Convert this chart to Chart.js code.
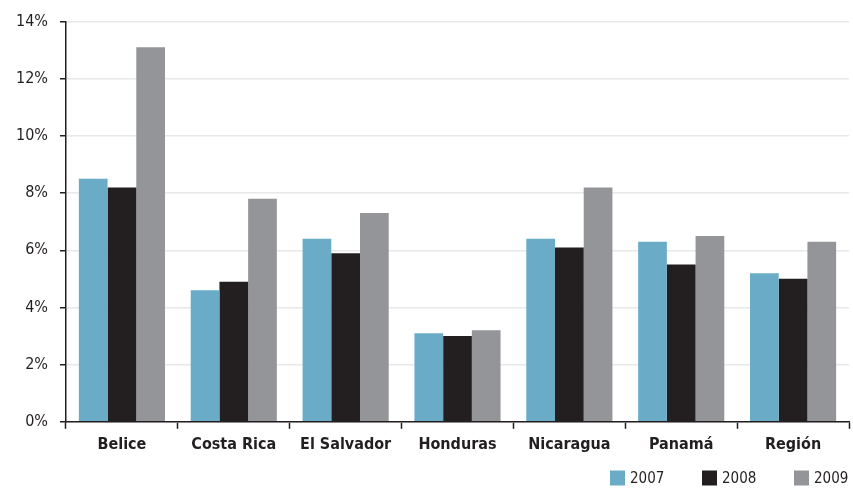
<!DOCTYPE html>
<html>
<head>
<meta charset="utf-8">
<script src="https://cdn.jsdelivr.net/npm/chart.js@4/dist/chart.umd.min.js"></script>
<style>
  html, body { margin: 0; padding: 0; background: #fff; }
  #wrap { width: 853px; height: 490px; }
</style>
</head>
<body>
<div id="wrap"><canvas id="chart"></canvas></div>
<script>
const paises = ["Belice", "Costa Rica", "El Salvador", "Honduras", "Nicaragua", "Panamá", "Región"];
const serie2007 = [8.5, 4.6, 6.4, 3.1, 6.4, 6.3, 5.2];
const serie2008 = [8.2, 4.9, 5.9, 3.0, 6.1, 5.5, 5.0];
const serie2009 = [13.1, 7.8, 7.3, 3.2, 8.2, 6.5, 6.3];
const yTicks = [0, 2, 4, 6, 8, 10, 12, 14];

const fontFamily = "'DejaVu Sans Condensed', 'Liberation Sans Narrow', sans-serif";

// legend drawn bottom-right with wide spacing between the year entries
const leyendaAnios = {
  id: "leyendaAnios",
  afterDraw(chart) {
    const c = chart.ctx;
    const box = 15;
    const step = 92;
    const yMid = chart.height - 12;
    let x = chart.chartArea.right - 2 * step - 55;
    c.save();
    c.font = "15px " + fontFamily;
    c.textBaseline = "middle";
    c.textAlign = "left";
    chart.data.datasets.forEach(ds => {
      c.fillStyle = ds.backgroundColor;
      c.fillRect(x, yMid - box / 2, box, box);
      c.fillStyle = "#231f20";
      c.fillText(ds.label, x + box + 5, yMid + 1);
      x += step;
    });
    c.restore();
  }
};

const ctx = document.getElementById("chart").getContext("2d");
new Chart(ctx, {
  type: "bar",
  data: {
    labels: paises,
    datasets: [
      { label: "2007", data: serie2007, backgroundColor: "#6aabc8" },
      { label: "2008", data: serie2008, backgroundColor: "#231f20" },
      { label: "2009", data: serie2009, backgroundColor: "#939598" }
    ]
  },
  options: {
    responsive: true,
    maintainAspectRatio: false,
    animation: false,
    datasets: {
      bar: { categoryPercentage: 0.77, barPercentage: 1.0 }
    },
    layout: { padding: { left: 4, right: 4, top: 8, bottom: 30 } },
    plugins: {
      tooltip: { enabled: false },
      legend: { display: false }
    },
    scales: {
      x: {
        grid: {
          offset: true,
          drawOnChartArea: false,
          tickLength: 7,
          tickColor: "#231f20",
          tickWidth: 1.5
        },
        border: { color: "#231f20", width: 1.5 },
        ticks: {
          font: { family: fontFamily, size: 16, weight: "bold" },
          color: "#231f20",
          padding: 6
        }
      },
      y: {
        min: 0,
        max: 14,
        afterBuildTicks: axis => { axis.ticks = yTicks.map(v => ({ value: v })); },
        grid: {
          color: "#e8e8e8",
          lineWidth: 1.5,
          tickColor: "#231f20",
          tickLength: 6,
          tickWidth: 1.5
        },
        border: { color: "#231f20", width: 1.5 },
        ticks: {
          font: { family: fontFamily, size: 16 },
          color: "#231f20",
          padding: 12,
          callback: v => v + "%"
        }
      }
    }
  },
  plugins: [leyendaAnios]
});
</script>
</body>
</html>
